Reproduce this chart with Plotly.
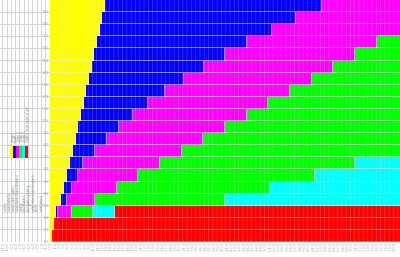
import plotly.graph_objects as go

rows = [f"R{i}" for i in range(1, 21)]
# cumulative end positions of each coloured segment per row (px)
ends_px = [
    [105, 322, 420, None, None, None],
    [102, 296, 420, None, None, None],
    [99.5, 272, 420, None, None, None],
    [97, 247, 377, 420, None, None],
    [94, 225, 355, 420, None, None],
    [91.5, 204, 333, 420, None, None],
    [89, 184, 312, 420, None, None],
    [86, 165, 290, 420, None, None],
    [83.5, 148, 268, 420, None, None],
    [81, 133, 247, 420, None, None],
    [78, 119, 225, 420, None, None],
    [75.5, 107, 203, 420, None, None],
    [73, 95, 182, 420, None, None],
    [70, 83, 160, 355, 420, None],
    [67, 78, 138, 315, 420, None],
    [63.5, 72, 117, 270, 420, None],
    [61, 67, 95, 225, 420, None],
    [56, 58, 72, 93, 115, 420],
    [54, None, None, None, None, 420],
    [52, None, None, None, None, 420],
]
names = ["Stage 1", "Stage 2", "Stage 3", "Stage 4", "Stage 5", "Stage 6"]
colors = ["#FFFF00", "#0000FF", "#FF00FF", "#00FF00", "#00FFFF", "#FF0000"]
side_labels = ["label a", "label b", "label c", "label d", "label e", "label f",
               "label g", "label h", "label i", "label j"]

PX0 = 50.0
U = 4.3
PH = 242.0  # plot-area height in px

series = [[0.0] * 20 for _ in range(6)]
for r, e in enumerate(ends_px):
    prev = PX0
    for s in range(6):
        if e[s] is not None:
            series[s][r] = (e[s] - prev) / U
            prev = e[s]

ypos = list(range(20, 0, -1))

fig = go.Figure()
for s in range(6):
    fig.add_trace(go.Bar(
        y=ypos, x=series[s], orientation="h", name=names[s],
        marker=dict(color=colors[s], line=dict(width=0.6, color="rgba(235,235,235,0.6)"),
                    pattern=dict(shape="|", size=4.3, solidity=0.2,
                                 fgcolor="rgba(210,210,210,0.45)", fillmode="overlay")),
        showlegend=False,
    ))

fig.update_layout(
    barmode="stack", bargap=0,
    width=400, height=257,
    margin=dict(l=0, r=0, t=0, b=15),
    plot_bgcolor="white", paper_bgcolor="white",
    xaxis=dict(range=[-PX0 / U, (400 - PX0) / U], dtick=1, tick0=0,
               showgrid=True, gridcolor="#d4d4d4", gridwidth=1, tickformat=".1f",
               tickfont=dict(size=4, color="#aaa"), tickangle=-90, zeroline=False),
    yaxis=dict(range=[0.5, 20.5], tick0=0.5, dtick=1, showgrid=True,
               gridcolor="#d4d4d4", anchor="free", position=0.12,
               tickfont=dict(size=3, color="#888"), zeroline=False),
)

for i, c in enumerate(colors):
    fig.add_shape(type="rect", xref="paper", yref="paper",
                  x0=(10 + i * 3) / 400, x1=(13 + i * 3) / 400,
                  y0=1 - 158 / PH, y1=1 - 146 / PH,
                  fillcolor=c, line=dict(width=0))
    fig.add_annotation(xref="paper", yref="paper", x=(11.5 + i * 3) / 400,
                       y=1 - 145 / PH, text=names[i] + (" (total share of all)" if i == 5 else ""),
                       textangle=-90, showarrow=False, font=dict(size=3, color="#777"),
                       xanchor="center", yanchor="bottom")

for i, t in enumerate(side_labels):
    fig.add_annotation(xref="paper", yref="paper", x=(4 + i * 4) / 400,
                       y=1 - 215 / PH, text=t * (1 + (i % 4)), textangle=-90,
                       showarrow=False, font=dict(size=3, color="#777"),
                       xanchor="center", yanchor="bottom")

fig.write_html("out.html")
